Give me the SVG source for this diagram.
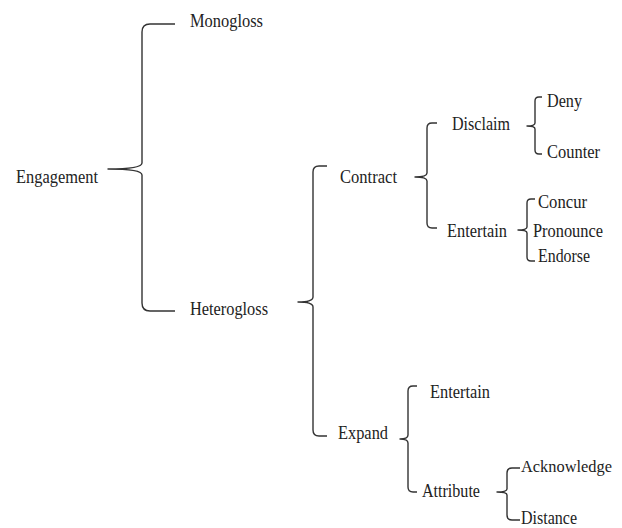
<svg xmlns="http://www.w3.org/2000/svg" width="622" height="528" viewBox="0 0 622 528">
<style>
text{font-family:"Liberation Serif","Times New Roman",serif;font-size:19px;fill:#222;}
.br{fill:none;stroke:#333;stroke-width:1.4;stroke-linejoin:round;}
</style>
<rect width="622" height="528" fill="#fff"/>
<g id="connectors">
<path class="br" d="M175 24 L150 24 Q142 24 142 32 L142 163 Q142 169 108 169 Q142 169 142 175 L142 303 Q142 311 150 311 L175 311"/>
<path class="br" d="M327 166 L319 166 Q313 166 313 172 L313 297 Q313 302 298 302 Q313 302 313 307 L313 430 Q313 436 319 436 L327 436"/>
<path class="br" d="M437 123 L432 123 Q427 123 427 128 L427 173 Q427 177 415 177 Q427 177 427 181 L427 223 Q427 228 432 228 L437 228"/>
<path class="br" d="M542 97 L539 97 Q535 97 535 101 L535 123 Q535 126 527 126 Q535 126 535 129 L535 150 Q535 154 539 154 L542 154"/>
<path class="br" d="M535 199 L531 199 Q527 199 527 203 L527 227 Q527 230 518 230 Q527 230 527 233 L527 257 Q527 261 531 261 L535 261"/>
<path class="br" d="M417 386 L413 386 Q408 386 408 391 L408 435 Q408 439 400 439 Q408 439 408 443 L408 487 Q408 492 413 492 L417 492"/>
<path class="br" d="M520 468 L512 468 Q507 468 507 473 L507 489 Q507 492 497 492 Q507 492 507 495 L507 515 Q507 520 512 520 L520 520"/>
</g>
<g id="engagement"><text x="16" y="183" textLength="82" lengthAdjust="spacingAndGlyphs">Engagement</text></g>
<g id="monogloss"><text x="190" y="27" textLength="73" lengthAdjust="spacingAndGlyphs">Monogloss</text></g>
<g id="heterogloss"><text x="190" y="315" textLength="78" lengthAdjust="spacingAndGlyphs">Heterogloss</text></g>
<g id="contract"><text x="340" y="183" textLength="57" lengthAdjust="spacingAndGlyphs">Contract</text></g>
<g id="expand"><text x="338" y="439" textLength="50" lengthAdjust="spacingAndGlyphs">Expand</text></g>
<g id="disclaim"><text x="452" y="130" textLength="58" lengthAdjust="spacingAndGlyphs">Disclaim</text></g>
<g id="entertain-contract"><text x="447" y="237" textLength="60" lengthAdjust="spacingAndGlyphs">Entertain</text></g>
<g id="deny"><text x="547" y="107" textLength="35" lengthAdjust="spacingAndGlyphs">Deny</text></g>
<g id="counter"><text x="547" y="158" textLength="53" lengthAdjust="spacingAndGlyphs">Counter</text></g>
<g id="concur"><text x="538" y="208" textLength="49" lengthAdjust="spacingAndGlyphs">Concur</text></g>
<g id="pronounce"><text x="533" y="237" textLength="70" lengthAdjust="spacingAndGlyphs">Pronounce</text></g>
<g id="endorse"><text x="538" y="262" textLength="52" lengthAdjust="spacingAndGlyphs">Endorse</text></g>
<g id="entertain-expand"><text x="430" y="398" textLength="60" lengthAdjust="spacingAndGlyphs">Entertain</text></g>
<g id="attribute"><text x="422" y="497" textLength="58" lengthAdjust="spacingAndGlyphs">Attribute</text></g>
<g id="acknowledge"><text x="521" y="472" font-size="17.5" textLength="91" lengthAdjust="spacingAndGlyphs" style="font-size:17.5px">Acknowledge</text></g>
<g id="distance"><text x="521" y="523.5" textLength="56" lengthAdjust="spacingAndGlyphs">Distance</text></g>
</svg>
